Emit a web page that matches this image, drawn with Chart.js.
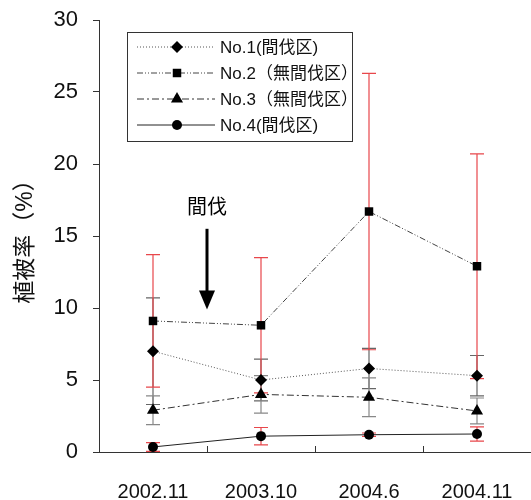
<!DOCTYPE html>
<html lang="ja">
<head>
    <meta charset="UTF-8">
    <title>植被率</title>
    <script src="https://cdn.jsdelivr.net/npm/chart.js"></script>
    <style>
        html, body { margin: 0; padding: 0; background: #fff; }
    </style>
</head>
<body>
    <canvas id="chart" width="531" height="500"></canvas>

    <script>
        // データ
        const labels = ['2002.11', '2003.10', '2004.6', '2004.11'];
        const seriesNames = ['No.1(間伐区)', 'No.2（無間伐区）', 'No.3（無間伐区）', 'No.4(間伐区)'];
        const no1 = [7.0, 5.0, 5.8, 5.3];
        const no2 = [9.1, 8.8, 16.7, 12.9];
        const no3 = [2.9, 4.0, 3.8, 2.85];
        const no4 = [0.35, 1.1, 1.2, 1.25];
        // 標準偏差（エラーバー）
        const err1 = [3.7, 1.45, 1.4, 1.4];
        const err2 = [4.6, 4.7, 9.6, 7.8];
        const err3 = [1.0, 1.3, 1.35, 0.9];
        const err4 = [0.3, 0.6, 0.12, 0.5];

        const FONT = '"Liberation Sans", "Noto Sans CJK JP", sans-serif';

        const series = [
            { data: no1, err: err1, errColor: '#666', style: 'rectRot', radius: 6, dash: [1, 2], line: '#555' },
            { data: no2, err: err2, errColor: '#e8474b', style: 'rect', radius: 6, dash: [6, 2, 1, 2, 1, 2], line: '#444' },
            { data: no3, err: err3, errColor: '#888', style: 'triangle', radius: 7, dash: [7, 3, 2, 3], line: '#333' },
            { data: no4, err: err4, errColor: '#e8474b', style: 'circle', radius: 5, dash: [], line: '#222' }
        ];

        const noPadding = () => ({ left: 0, right: 0, top: 0, bottom: 0 });

        // エラーバー描画
        const errorBars = {
            id: 'errorBars',
            beforeDatasetsDraw(chart) {
                const ctx = chart.ctx;
                const xs = chart.scales.x, ys = chart.scales.y;
                ctx.save();
                ctx.lineWidth = 1.2;
                series.forEach(s => {
                    ctx.strokeStyle = s.errColor;
                    s.data.forEach((v, i) => {
                        const x = xs.getPixelForValue(i);
                        const yt = ys.getPixelForValue(v + s.err[i]);
                        const yb = ys.getPixelForValue(Math.max(0, v - s.err[i]));
                        ctx.beginPath();
                        ctx.moveTo(x, yt); ctx.lineTo(x, yb);
                        ctx.moveTo(x - 7, yt); ctx.lineTo(x + 7, yt);
                        ctx.moveTo(x - 7, yb); ctx.lineTo(x + 7, yb);
                        ctx.stroke();
                    });
                });
                ctx.restore();
            }
        };

        // 凡例・矢印・x軸目盛
        const extras = {
            id: 'extras',
            afterDraw(chart) {
                const ctx = chart.ctx;
                const area = chart.chartArea;
                const xs = chart.scales.x, ys = chart.scales.y;
                ctx.save();

                // x軸の内向き目盛
                ctx.strokeStyle = '#333';
                ctx.lineWidth = 1;
                for (let i = 0; i < labels.length - 1; i++) {
                    const x = Math.round((xs.getPixelForValue(i) + xs.getPixelForValue(i + 1)) / 2) + 0.5;
                    ctx.beginPath();
                    ctx.moveTo(x, area.bottom);
                    ctx.lineTo(x, area.bottom - 6);
                    ctx.stroke();
                }

                // 間伐 矢印
                const ax = (xs.getPixelForValue(0) + xs.getPixelForValue(1)) / 2;
                const ay1 = ys.getPixelForValue(15.5);
                const ay2 = ys.getPixelForValue(9.9);
                ctx.strokeStyle = '#000';
                ctx.fillStyle = '#000';
                ctx.lineWidth = 3;
                ctx.beginPath();
                ctx.moveTo(ax, ay1);
                ctx.lineTo(ax, ay2 - 16);
                ctx.stroke();
                ctx.beginPath();
                ctx.moveTo(ax - 8, ay2 - 19);
                ctx.lineTo(ax + 8, ay2 - 19);
                ctx.lineTo(ax, ay2);
                ctx.closePath();
                ctx.fill();
                ctx.font = '20px ' + FONT;
                ctx.textAlign = 'center';
                ctx.textBaseline = 'middle';
                ctx.fillText('間伐', ax, ys.getPixelForValue(16.9));

                // 凡例
                const lx = area.left + 28, ly = area.top + 12, lw = 225, lh = 109;
                ctx.fillStyle = '#fff';
                ctx.fillRect(lx, ly, lw, lh);
                ctx.strokeStyle = '#333';
                ctx.lineWidth = 1;
                ctx.strokeRect(lx + 0.5, ly + 0.5, lw, lh);
                ctx.font = '17px ' + FONT;
                ctx.textAlign = 'left';
                ctx.textBaseline = 'middle';
                series.forEach((s, i) => {
                    const y = ly + 15 + i * 26;
                    ctx.strokeStyle = s.line;
                    ctx.lineWidth = 1;
                    ctx.setLineDash(s.dash);
                    ctx.beginPath();
                    ctx.moveTo(lx + 10, y);
                    ctx.lineTo(lx + 88, y);
                    ctx.stroke();
                    ctx.setLineDash([]);
                    ctx.fillStyle = '#000';
                    Chart.helpers.drawPoint(ctx, {
                        pointStyle: s.style, radius: s.radius, rotation: 0, borderWidth: 0
                    }, lx + 50, y);
                    ctx.fillStyle = '#111';
                    ctx.fillText(seriesNames[i], lx + 93, y + 1);
                });
                ctx.restore();
            }
        };

        new Chart(document.getElementById('chart'), {
            type: 'line',
            data: {
                labels: labels,
                datasets: series.map((s, i) => ({
                    label: seriesNames[i],
                    data: s.data,
                    borderColor: s.line,
                    borderWidth: 1,
                    borderDash: s.dash,
                    pointStyle: s.style,
                    pointRadius: s.radius,
                    pointBackgroundColor: '#000',
                    pointBorderColor: '#000',
                    pointBorderWidth: 0,
                    fill: false,
                    tension: 0
                }))
            },
            options: {
                responsive: false,
                animation: false,
                maintainAspectRatio: false,
                layout: { autoPadding: false, padding: { top: 20, right: 0, left: 0, bottom: 0 } },
                plugins: {
                    legend: { display: false },
                    tooltip: { enabled: false }
                },
                scales: {
                    x: {
                        offset: true,
                        grid: { display: false, drawTicks: false },
                        border: { color: '#333', width: 1 },
                        ticks: { color: '#111', font: { family: FONT, size: 20 }, padding: 28, maxRotation: 0 },
                        afterFit(scale) {
                            scale.height = 48;
                            scale.getPadding = noPadding;
                        }
                    },
                    y: {
                        min: 0,
                        max: 30,
                        ticks: { stepSize: 5, color: '#111', font: { family: FONT, size: 22 }, padding: 15 },
                        grid: { drawOnChartArea: false, tickLength: 6, color: '#333' },
                        border: { color: '#333', width: 1 },
                        title: {
                            display: true,
                            text: '植被率（%）',
                            color: '#111',
                            font: { family: FONT, size: 23 },
                            padding: { top: 12, bottom: 0 }
                        },
                        afterFit(scale) {
                            scale.width = 99;
                            scale.getPadding = noPadding;
                        }
                    }
                }
            },
            plugins: [errorBars, extras]
        });
    </script>
</body>
</html>
